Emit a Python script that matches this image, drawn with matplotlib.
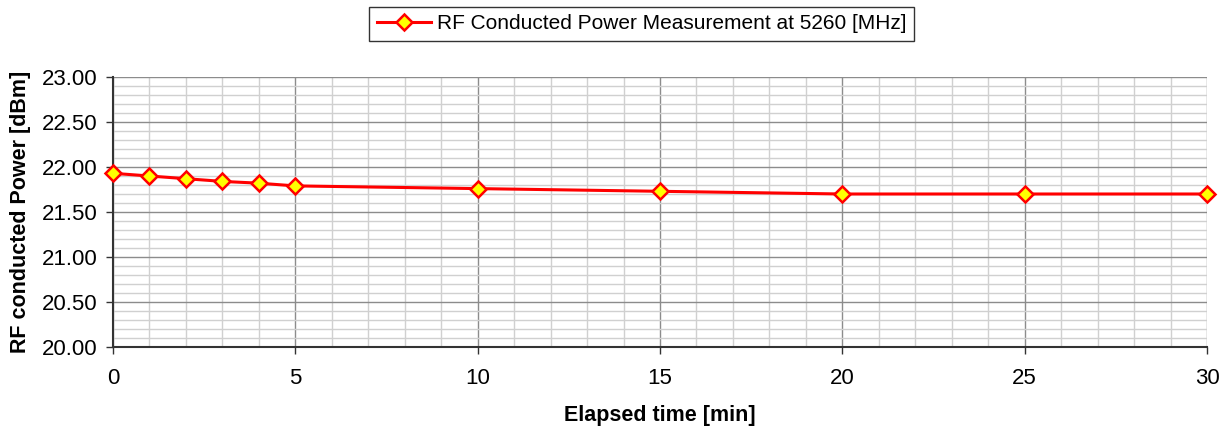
import numpy as np
import matplotlib.pyplot as plt
from matplotlib.ticker import MultipleLocator

plt.rcParams['font.family'] = ['Liberation Sans', 'DejaVu Sans']

minutes = [0, 1, 2, 3, 4, 5, 10, 15, 20, 25, 30]
power = [21.93, 21.90, 21.87, 21.84, 21.82, 21.79, 21.76, 21.73, 21.70, 21.70, 21.70]
label = "RF Conducted Power Measurement at 5260 [MHz]"

fig = plt.figure(figsize=(12.31, 4.28), dpi=100)
ax = fig.add_axes([113/1231, 81/428, (1207-113)/1231, (347-77)/428])

ax.plot(minutes, power, color="red", lw=2.2, marker="D", markersize=8,
        markerfacecolor="yellow", markeredgecolor="red", markeredgewidth=1.8,
        label=label, zorder=3, clip_on=False)

ax.set_xlim(0, 30)
ax.set_ylim(20, 23)
ax.xaxis.set_major_locator(MultipleLocator(5))
ax.xaxis.set_minor_locator(MultipleLocator(1))
ax.yaxis.set_major_locator(MultipleLocator(0.5))
ax.yaxis.set_minor_locator(MultipleLocator(0.1))
ax.yaxis.set_major_formatter(lambda v, p: "%.2f" % v)

ax.grid(which="major", color="#8c8c8c", lw=1)
ax.grid(which="minor", color="#d0d0d0", lw=1)
ax.set_axisbelow(True)
for s in ["top", "right"]:
    ax.spines[s].set_visible(False)
for s in ["left", "bottom"]:
    ax.spines[s].set_color("#333333")
    ax.spines[s].set_linewidth(1.5)
ax.tick_params(which="major", length=5, width=1, labelsize=16, color="#333333")
ax.tick_params(axis="x", pad=10)
ax.tick_params(axis="y", pad=6)
ax.tick_params(which="minor", length=0)

ax.set_xlabel("Elapsed time [min]", fontsize=15.5, fontweight="bold", labelpad=12)
ax.set_ylabel("RF conducted Power [dBm]", fontsize=15.5, fontweight="bold", labelpad=8)

leg = fig.legend(loc="upper center", bbox_to_anchor=(641.5/1231, 1 - 7/428), fontsize=15,
                 frameon=True, fancybox=False, edgecolor="black", handlelength=2.6,
                 handletextpad=0.3, borderpad=0.35, borderaxespad=0, shadow=False)
leg.get_frame().set_linewidth(1)

fig.savefig("out.png", dpi=100)
